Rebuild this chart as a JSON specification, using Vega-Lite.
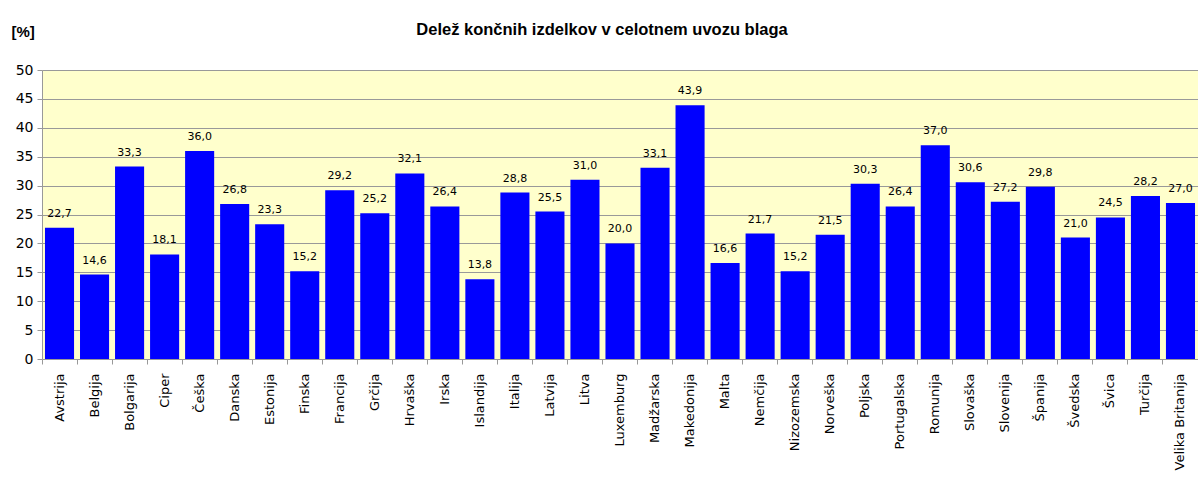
{
  "$schema": "https://vega.github.io/schema/vega-lite/v6.json",
  "autosize": "none",
  "width": 1156,
  "height": 289,
  "padding": {"left": 42, "top": 70, "right": 0, "bottom": 127},
  "background": "white",
  "title": {
    "text": "Delež končnih izdelkov v celotnem uvozu blaga",
    "font": "Liberation Sans",
    "fontSize": 16.5,
    "fontWeight": "bold",
    "color": "#000000",
    "anchor": "middle",
    "frame": "group",
    "baseline": "middle",
    "dx": -18,
    "offset": -22
  },
  "config": {
    "locale": {
      "number": {"decimal": ",", "thousands": ".", "grouping": [3], "currency": ["", " €"]}
    },
    "view": {"fill": "#FFFFCC", "stroke": null}
  },
  "data": {
    "values": [
      {"drzava": "Avstrija", "delez": 22.7},
      {"drzava": "Belgija", "delez": 14.6},
      {"drzava": "Bolgarija", "delez": 33.3},
      {"drzava": "Ciper", "delez": 18.1},
      {"drzava": "Češka", "delez": 36.0},
      {"drzava": "Danska", "delez": 26.8},
      {"drzava": "Estonija", "delez": 23.3},
      {"drzava": "Finska", "delez": 15.2},
      {"drzava": "Francija", "delez": 29.2},
      {"drzava": "Grčija", "delez": 25.2},
      {"drzava": "Hrvaška", "delez": 32.1},
      {"drzava": "Irska", "delez": 26.4},
      {"drzava": "Islandija", "delez": 13.8},
      {"drzava": "Italija", "delez": 28.8},
      {"drzava": "Latvija", "delez": 25.5},
      {"drzava": "Litva", "delez": 31.0},
      {"drzava": "Luxemburg", "delez": 20.0},
      {"drzava": "Madžarska", "delez": 33.1},
      {"drzava": "Makedonija", "delez": 43.9},
      {"drzava": "Malta", "delez": 16.6},
      {"drzava": "Nemčija", "delez": 21.7},
      {"drzava": "Nizozemska", "delez": 15.2},
      {"drzava": "Norveška", "delez": 21.5},
      {"drzava": "Poljska", "delez": 30.3},
      {"drzava": "Portugalska", "delez": 26.4},
      {"drzava": "Romunija", "delez": 37.0},
      {"drzava": "Slovaška", "delez": 30.6},
      {"drzava": "Slovenija", "delez": 27.2},
      {"drzava": "Španija", "delez": 29.8},
      {"drzava": "Švedska", "delez": 21.0},
      {"drzava": "Švica", "delez": 24.5},
      {"drzava": "Turčija", "delez": 28.2},
      {"drzava": "Velika Britanija", "delez": 27.0}
    ]
  },
  "encoding": {
    "x": {
      "field": "drzava",
      "type": "nominal",
      "sort": null,
      "scale": {"paddingInner": 0, "paddingOuter": 0},
      "axis": {
        "title": null,
        "labelAngle": -90,
        "labelAlign": "right",
        "labelBaseline": "middle",
        "labelFont": "DejaVu Sans",
        "labelFontSize": 13,
        "labelColor": "#000000",
        "labelPadding": 9,
        "bandPosition": 0,
        "tickSize": 5,
        "tickColor": "#999999",
        "domainColor": "#999999",
        "grid": false
      }
    },
    "y": {
      "field": "delez",
      "type": "quantitative",
      "scale": {"domain": [0, 50], "nice": false},
      "axis": {
        "values": [0, 5, 10, 15, 20, 25, 30, 35, 40, 45, 50],
        "title": "[%]",
        "titleAngle": 0,
        "titleAlign": "left",
        "titleBaseline": "middle",
        "titleX": -31,
        "titleY": -39,
        "titleFont": "Liberation Sans",
        "titleFontSize": 15,
        "titleFontWeight": "bold",
        "titleColor": "#000000",
        "labelFont": "DejaVu Sans",
        "labelFontSize": 14,
        "labelColor": "#000000",
        "labelPadding": 4,
        "tickSize": 5,
        "tickColor": "#999999",
        "domainColor": "#999999",
        "grid": true,
        "gridColor": "#999999",
        "gridOpacity": 1
      }
    }
  },
  "layer": [
    {
      "mark": {"type": "bar", "color": "#0000FF", "width": {"band": 0.83}}
    },
    {
      "mark": {
        "type": "text",
        "baseline": "bottom",
        "dy": -9,
        "font": "DejaVu Sans",
        "fontSize": 11,
        "color": "#000000"
      },
      "encoding": {
        "text": {"field": "delez", "type": "quantitative", "format": ".1f"}
      }
    }
  ]
}
